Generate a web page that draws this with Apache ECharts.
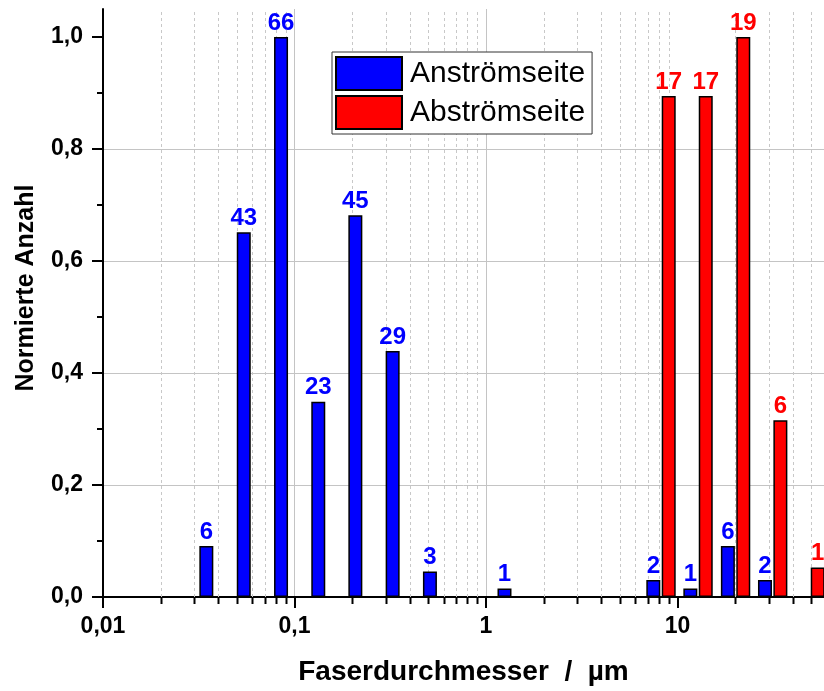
<!DOCTYPE html>
<html>
<head>
<meta charset="utf-8">
<script src="https://cdn.jsdelivr.net/npm/echarts@6/dist/echarts.min.js"></script>
<style>
  html, body { margin: 0; padding: 0; background: #fff; }
  #chart { width: 824px; height: 691px; }
</style>
</head>
<body>
<div id="chart"></div>
<script>
// Fibre diameter classes (bin centres, µm) and fibre counts per class
const anstromDiameter = [0.038, 0.0596, 0.0933, 0.146, 0.228, 0.357, 0.559, 1.37, 8.2, 12.8, 20.1, 31.4];
const anstromCount    = [6, 43, 66, 23, 45, 29, 3, 1, 2, 1, 6, 2];
const abstromDiameter = [8.2, 12.8, 20.1, 31.4, 49.2];
const abstromCount    = [17, 17, 19, 6, 1];

// Axis range (µm) and ticks
const xRange = [0.01, 58.2];
const xDecades = [-2, -1, 0, 1];
const xTickLabels = ['0,01', '0,1', '1', '10'];
const xMinorFactors = [2, 3, 4, 5, 6, 7, 8, 9];
const yMajorTicks = [0, 0.2, 0.4, 0.6, 0.8, 1.0];
const yMinorTicks = [0.1, 0.3, 0.5, 0.7, 0.9];

const FONT = '"Liberation Sans", Arial, sans-serif';
const BLUE = '#0000ff';
const RED = '#ff0000';

const xMin = Math.log10(xRange[0]);
const xMax = Math.log10(xRange[1]);

// Normalise each side by its largest class; keep the raw count for the label
function normalised(diameters, counts) {
  const max = Math.max.apply(null, counts);
  return diameters.map((d, i) => [Math.log10(d), counts[i] / max, counts[i]]);
}

// Minor log ticks (2..9 in every decade), positioned in log10 space
const xMinorPositions = [];
xDecades.forEach(d => {
  xMinorFactors.forEach(m => {
    const v = d + Math.log10(m);
    if (v < xMax) xMinorPositions.push([v, 0]);
  });
});

const chart = echarts.init(document.getElementById('chart'), null, { renderer: 'canvas' });

const barLabel = color => ({
  show: true,
  position: 'top',
  distance: 2,
  color: color,
  fontFamily: FONT,
  fontSize: 24,
  fontWeight: 'bold',
  formatter: p => String(p.data[2])
});

chart.setOption({
  backgroundColor: '#ffffff',
  animation: false,
  grid: { left: 103, right: 0, top: 9, bottom: 94, containLabel: false },
  legend: {
    orient: 'vertical',
    left: 332,
    top: 52,
    padding: [4, 7, 4, 3],
    itemGap: 4,
    itemWidth: 66,
    itemHeight: 33,
    icon: 'rect',
    backgroundColor: '#ffffff',
    borderColor: '#333333',
    borderWidth: 1,
    borderRadius: 0,
    itemStyle: { borderColor: '#000000', borderWidth: 2 },
    textStyle: { fontFamily: FONT, fontSize: 30, color: '#000000', padding: [0, 0, 0, 3] },
    data: ['Anströmseite', 'Abströmseite']
  },
  xAxis: {
    type: 'value',
    min: xMin,
    max: xMax,
    name: 'Faserdurchmesser  /  µm',
    nameLocation: 'middle',
    nameGap: 61,
    nameTextStyle: { fontFamily: FONT, fontSize: 28, fontWeight: 'bold', color: '#000' },
    axisLine: { show: true, onZero: false, lineStyle: { color: '#000', width: 2 } },
    axisTick: { show: true, inside: false, length: 11, customValues: xDecades, lineStyle: { color: '#000', width: 2 } },
    axisLabel: {
      margin: 18,
      customValues: xDecades,
      fontFamily: FONT,
      fontSize: 23,
      fontWeight: 'bold',
      color: '#000',
      formatter: v => xTickLabels[xDecades.indexOf(Math.round(v))] || ''
    },
    splitLine: { show: true, showMinLine: false, showMaxLine: false, lineStyle: { color: '#c4c4c4', width: 1 } }
  },
  yAxis: [{
    type: 'value',
    min: 0,
    max: 1.05,
    interval: 0.2,
    name: 'Normierte Anzahl',
    nameLocation: 'middle',
    nameGap: 64,
    nameTextStyle: { fontFamily: FONT, fontSize: 25, fontWeight: 'bold', color: '#000', padding: [0, 0, 0, 30] },
    axisLine: { show: true, onZero: false, lineStyle: { color: '#000', width: 2 } },
    axisTick: { show: true, inside: false, length: 11, customValues: yMajorTicks, lineStyle: { color: '#000', width: 2 } },
    axisLabel: {
      margin: 20,
      customValues: yMajorTicks,
      fontFamily: FONT,
      fontSize: 23,
      fontWeight: 'bold',
      color: '#000',
      formatter: v => v.toFixed(1).replace('.', ',')
    },
    splitLine: { show: true, showMinLine: false, showMaxLine: false, lineStyle: { color: '#c4c4c4', width: 1 } }
  }, {
    type: 'value',
    min: 0,
    max: 1.05,
    position: 'left',
    axisLine: { show: false, onZero: false },
    axisTick: { show: true, inside: false, length: 6, customValues: yMinorTicks, lineStyle: { color: '#000', width: 2 } },
    axisLabel: { show: false },
    splitLine: { show: false }
  }],
  series: [
    {
      // dashed minor grid lines and minor ticks of the logarithmic axis
      type: 'custom',
      name: 'minor',
      silent: true,
      clip: false,
      z: 1,
      data: xMinorPositions,
      encode: { x: 0, y: 1 },
      renderItem: (params, api) => {
        const bottom = api.coord([api.value(0), 0]);
        const top = api.coord([api.value(0), 1.05]);
        const x = Math.round(bottom[0]) + 0.5;
        return {
          type: 'group',
          children: [
            { type: 'line', shape: { x1: x, y1: bottom[1], x2: x, y2: top[1] },
              style: { stroke: '#c8c8c8', lineWidth: 1, lineDash: [3, 3] } },
            { type: 'line', shape: { x1: x, y1: bottom[1], x2: x, y2: bottom[1] + 7 },
              style: { stroke: '#000', lineWidth: 2 } }
          ]
        };
      }
    },
    {
      type: 'bar',
      name: 'Anströmseite',
      data: normalised(anstromDiameter, anstromCount),
      barWidth: 14,
      barGap: '10%',
      z: 3,
      itemStyle: { color: BLUE, borderColor: '#000', borderWidth: 1.5 },
      label: barLabel(BLUE)
    },
    {
      type: 'bar',
      name: 'Abströmseite',
      data: normalised(abstromDiameter, abstromCount),
      barWidth: 14,
      barGap: '10%',
      z: 3,
      itemStyle: { color: RED, borderColor: '#000', borderWidth: 1.5 },
      label: barLabel(RED)
    }
  ]
});
</script>
</body>
</html>
